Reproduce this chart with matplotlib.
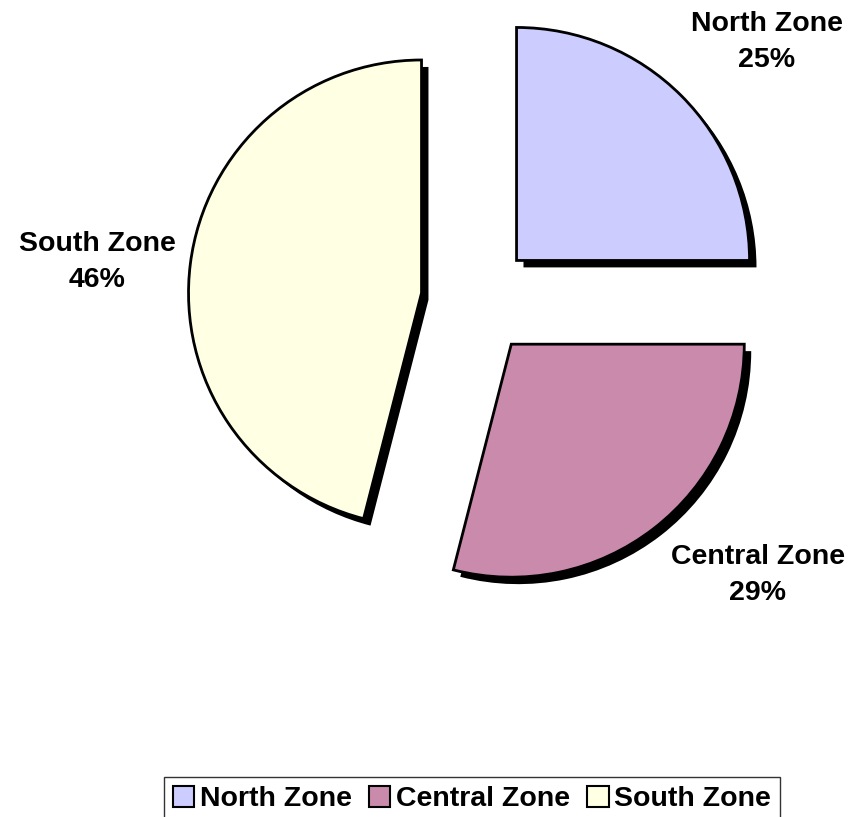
import matplotlib
matplotlib.use("Agg")
import matplotlib.pyplot as plt
import matplotlib.patheffects as pe
from matplotlib.patches import Patch

categories = ["North Zone", "Central Zone", "South Zone"]
values = [25, 29, 46]
colors = ["#CCCCFF", "#C98AAC", "#FFFFE4"]

plt.rcParams['font.family'] = ['Liberation Sans', 'DejaVu Sans']

W, H = 854, 817
fig = plt.figure(figsize=(W / 100, H / 100), dpi=100)
ax = fig.add_axes([0, 0, 1, 1])

cx, cy, R = 477, 300, 233  # pixel centre and radius

wedges, _ = ax.pie(values, colors=colors, startangle=90, counterclock=False,
                   explode=[0.24, 0.24, 0.24], radius=1.0,
                   wedgeprops=dict(edgecolor='black', linewidth=2))
for w in wedges:
    w.set_path_effects([pe.SimplePatchShadow(offset=(5, -5), shadow_rgbFace='black', alpha=1.0),
                        pe.Normal()])

ax.set_xlim(-cx / R, (W - cx) / R)
ax.set_ylim(-(H - cy) / R, cy / R)
ax.set_aspect('equal')
ax.axis('off')

label_pos = [(767, 42), (758, 575), (97, 262)]
for (px, py), cat, v in zip(label_pos, categories, values):
    ax.text((px - cx) / R, (cy - py) / R, f"{cat}\n{v}%", ha='center', va='center',
            fontsize=20.5, fontweight='bold', linespacing=1.5)

handles = [Patch(facecolor=c, edgecolor='black', linewidth=1.5) for c in colors]
leg = fig.legend(handles, categories, loc='center', bbox_to_anchor=(472 / W, 1 - 799 / H),
                 ncol=3, frameon=True, fancybox=False, handlelength=0.75, handleheight=0.75,
                 handletextpad=0.2, columnspacing=0.6, borderpad=0.3,
                 prop=dict(size=20.5, weight='bold'))
leg.get_frame().set_edgecolor('black')
leg.get_frame().set_linewidth(1.0)

fig.savefig("out.png", dpi=100)
